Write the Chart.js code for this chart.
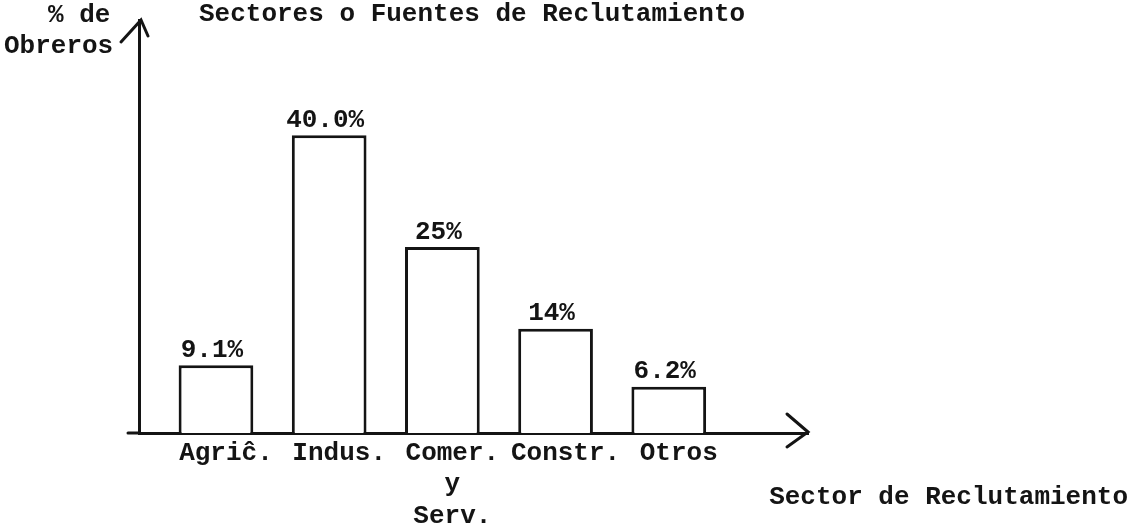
<!DOCTYPE html>
<html>
<head>
<meta charset="utf-8">
<script src="https://cdn.jsdelivr.net/npm/chart.js@4/dist/chart.umd.min.js"></script>
<style>
  html, body { margin: 0; padding: 0; background: #ffffff; }
  canvas { display: block; }
</style>
</head>
<body>
<canvas id="chart" width="1132" height="528"></canvas>
<script>
// ── Data ─────────────────────────────────────────────────────────────────────

const sectorPos = [1, 2, 3, 4, 5];
const sectorLabels = ['Agriĉ.', 'Indus.', ['Comer.', 'y', 'Serv.'], 'Constr.', 'Otros'];
const workerShare = [9.1, 40.0, 25, 14, 6.2];
const shareLabels = ['9.1%', '40.0%', '25%', '14%', '6.2%'];

const chartTitle = 'Sectores o Fuentes de Reclutamiento';
const yTitle = ['% de', 'Obreros'];
const xTitle = 'Sector de Reclutamiento';

// ── Look ─────────────────────────────────────────────────────────────────────

const ink = '#141414';
const typeFont = "'Liberation Mono', 'DejaVu Sans Mono', monospace";

Chart.defaults.font.family = typeFont;
Chart.defaults.color = ink;

// hand-drawn style extras: arrow heads, text around the axes, value labels
const typewriterText = {
  id: 'typewriterText',
  afterDraw(chart) {
    const { ctx, chartArea } = chart;
    const { left, top, right, bottom } = chartArea;
    ctx.save();

    // axis extension + arrows
    ctx.strokeStyle = ink;
    ctx.lineWidth = 3;
    ctx.lineCap = 'round';
    ctx.beginPath();
    ctx.moveTo(left - 11, bottom);
    ctx.lineTo(left, bottom);
    ctx.stroke();

    ctx.beginPath();
    ctx.moveTo(left - 18, top + 22);
    ctx.lineTo(left + 2, top);
    ctx.lineTo(left + 9, top + 16);
    ctx.stroke();

    ctx.beginPath();
    ctx.moveTo(right - 21, bottom - 19);
    ctx.lineTo(right, bottom - 1);
    ctx.lineTo(right - 21, bottom + 14);
    ctx.stroke();

    // texts
    ctx.fillStyle = ink;
    ctx.font = 'bold 26px ' + typeFont;
    ctx.textBaseline = 'middle';
    ctx.textAlign = 'left';
    ctx.fillText(chartTitle, left + 60, 14);
    ctx.fillText(yTitle[0], 48, 15);
    ctx.fillText(yTitle[1], 4, 46);
    ctx.textAlign = 'right';
    ctx.fillText(xTitle, 1128, 497);

    // values above bars
    ctx.textAlign = 'center';
    ctx.textBaseline = 'bottom';
    const meta = chart.getDatasetMeta(0);
    meta.data.forEach((bar, i) => {
      ctx.fillText(shareLabels[i], bar.x - 4, bar.y - 2);
    });

    ctx.restore();
  }
};

new Chart(document.getElementById('chart'), {
  type: 'bar',
  data: {
    datasets: [{
      data: sectorPos.map((x, i) => ({ x: x, y: workerShare[i] })),
      backgroundColor: '#ffffff',
      borderColor: ink,
      borderWidth: 3,
      barPercentage: 0.66,
      categoryPercentage: 1,
    }]
  },
  options: {
    responsive: false,
    animation: false,
    layout: { padding: { left: 139, top: 20, right: 324, bottom: 0 } },
    plugins: {
      legend: { display: false },
      tooltip: { enabled: false }
    },
    scales: {
      x: {
        type: 'linear',
        offset: false,
        min: 0.32,
        max: 6.23,
        grid: { display: false },
        border: { display: true, color: ink, width: 3 },
        afterBuildTicks: scale => { scale.ticks = sectorPos.map(v => ({ value: v })); },
        afterFit: scale => { scale.height = 95; },
        ticks: {
          autoSkip: false,
          maxRotation: 0,
          padding: -3,
          labelOffset: 10,
          color: ink,
          font: { size: 26, weight: 'bold', lineHeight: 1.2 },
          callback: (v, i) => sectorLabels[i]
        }
      },
      y: {
        min: 0,
        max: 55.5,
        grid: { display: false },
        border: { display: true, color: ink, width: 3 },
        ticks: { display: false },
        afterFit: scale => { scale.width = 0; }
      }
    }
  },
  plugins: [typewriterText]
});
</script>
</body>
</html>
